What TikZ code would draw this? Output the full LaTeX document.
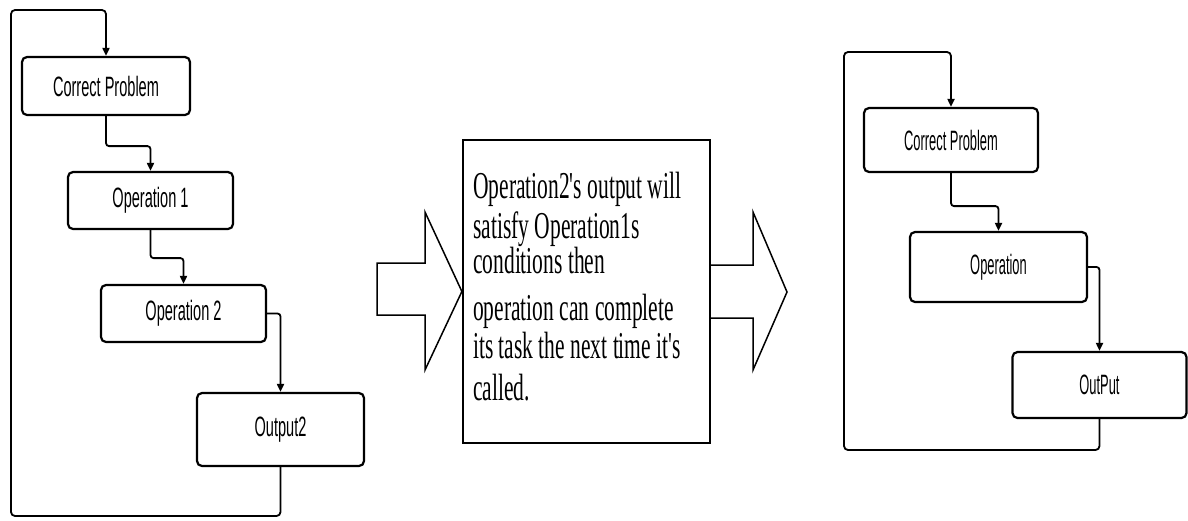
\documentclass[tikz,border=0pt]{standalone}
\usepackage{fontspec}
\usetikzlibrary{arrows.meta}
\newfontfamily\boxfont[FakeStretch=0.52]{Liberation Sans}
\newfontfamily\boxfontnarrow[FakeStretch=0.46]{Liberation Sans}
\newfontfamily\notefont[FakeStretch=0.566]{Liberation Serif}
\tikzset{
  flowbox/.style={draw, line width=2.2pt, rounded corners=5pt, inner sep=0pt,
    font=\boxfont\fontsize{28}{30}\selectfont},
  flowboxr/.style={flowbox, font=\boxfontnarrow\fontsize{28}{30}\selectfont},
  flow/.style={line width=1.8pt, rounded corners=3pt,
    -{Triangle[length=8pt,width=7pt]}},
  notebox/.style={draw, line width=2.2pt, inner sep=0pt},
  noteline/.style={anchor=base west, inner sep=0pt,
    font=\notefont\fontsize{38}{40}\selectfont},
  blockarrow/.style={draw, line width=1.5pt, line join=miter}
}
\begin{document}
\begin{tikzpicture}[x=1pt, y=-1pt]
\useasboundingbox (0,0) rectangle (1188,520);

% left chart
\node[flowbox, minimum width=168pt, minimum height=58pt] (cp1) at (106,86) {Correct Problem};
\node[flowbox, minimum width=165pt, minimum height=57pt] (op1) at (150.5,200.5) {Operation 1};
\node[flowbox, minimum width=165pt, minimum height=57pt] (op2) at (183.5,313.5) {Operation 2};
\node[flowbox, minimum width=167pt, minimum height=73pt] (out2) at (280.5,429.5) {Output2};

\draw[flow] (cp1.south) -- ++(0,30) -| (op1.north);
\draw[flow] (op1.south) -- ++(0,28) -| (op2.north);
\draw[flow] (op2.east) -| (out2.north);
\coordinate (lbot) at (11,516);
\coordinate (ltop) at (11,10);
\draw[flow, rounded corners=4pt] (out2.south) |- (lbot) -- (ltop) -| (cp1.north);

% middle note with block arrows
\node[notebox, minimum width=247pt, minimum height=303pt] (note) at (586.5,291.5) {};
\node[noteline] (t1) at (473,198) {Operation2's output will};
\node[noteline] (t2) at (473,238) {satisfy Operation1s};
\node[noteline] (t3) at (473,273) {conditions then};
\node[noteline] (t4) at (473,320) {operation can complete};
\node[noteline] (t5) at (473,358) {its task the next time it's};
\node[noteline] (t6) at (473,400) {called.};

\draw[blockarrow] (note.west) -- (425,212) -- (425,263) -- (377,263)
  -- (377,315) -- (425,315) -- (425,370) -- cycle;
\draw[blockarrow] (note.east |- 0,265) -- (753,265) -- (753,212) -- (787,292)
  -- (753,370) -- (753,318) -- (note.east |- 0,318);

% right chart
\node[flowboxr, minimum width=174pt, minimum height=64pt] (cp2) at (951,140) {Correct Problem};
\node[flowboxr, minimum width=177pt, minimum height=70pt] (op) at (998.5,267) {Operation};
\node[flowboxr, minimum width=174pt, minimum height=66pt] (out) at (1099.5,385) {OutPut};

\draw[flow] (cp2.south) -- ++(0,33) -| (op.north);
\draw[flow] (op.east) -| (out.north);
\coordinate (rbot) at (844,450);
\coordinate (rtop) at (844,52);
\draw[flow, rounded corners=4pt] (out.south) |- (rbot) -- (rtop) -| (cp2.north);
\end{tikzpicture}
\end{document}
